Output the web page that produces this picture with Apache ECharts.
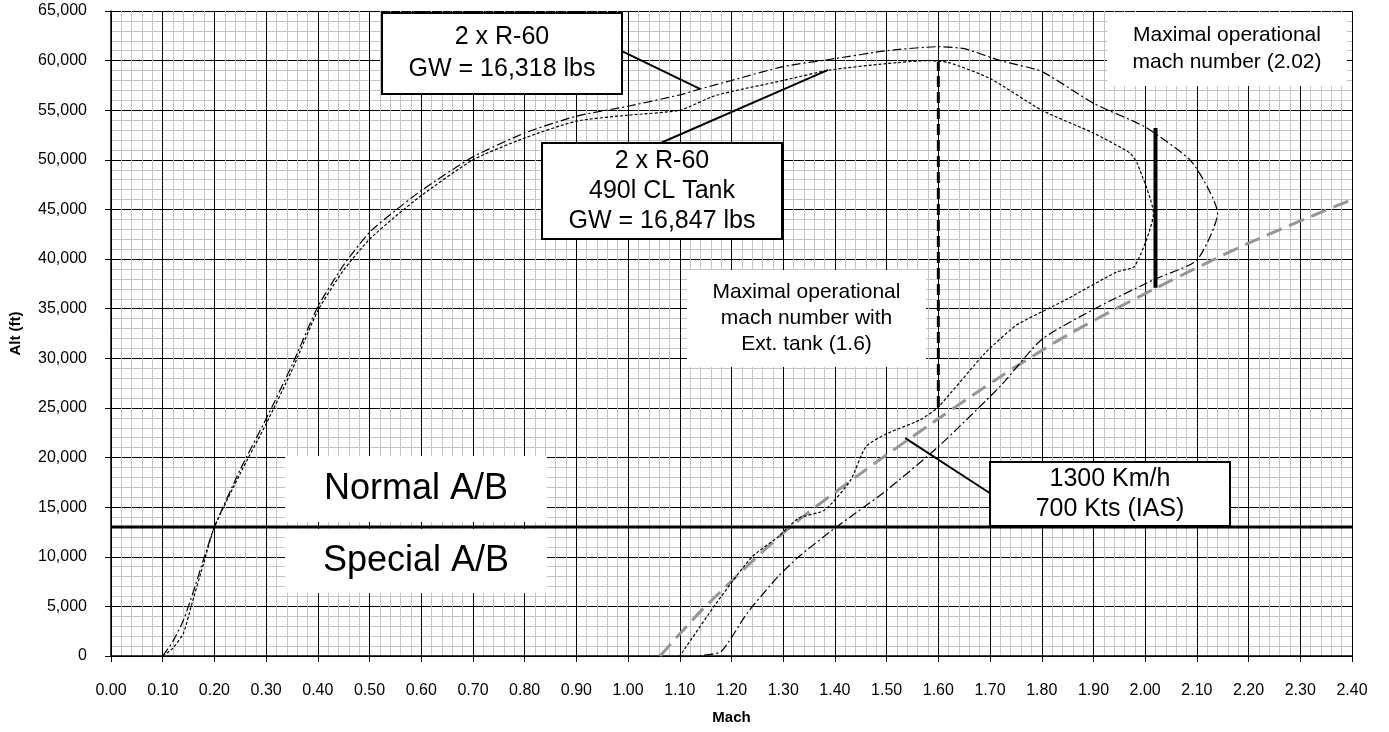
<!doctype html>
<html>
<head>
<meta charset="UTF-8">
<title>Mach / Alt envelope</title>
<script src="https://cdn.jsdelivr.net/npm/echarts@6.0.0/dist/echarts.min.js"></script>
<style>
  html, body { margin: 0; padding: 0; background: #fff; }
  #main { width: 1389px; height: 732px; }
</style>
</head>
<body>
<div id="main"></div>
<script type="text/javascript">
// envelope without tank (dash-dot), [mach, alt ft]
var cleanEnvelope = [
  [0.10, 0], [0.12, 1500], [0.14, 3600], [0.16, 6600], [0.18, 9900], [0.20, 13000],
  [0.25, 18800], [0.30, 23900], [0.35, 29300], [0.40, 35200], [0.45, 39400], [0.50, 42700],
  [0.55, 44900], [0.60, 46900], [0.70, 50300], [0.80, 52700], [0.90, 54400], [1.00, 55400],
  [1.10, 56550], [1.14, 57150], [1.20, 58000], [1.30, 59400], [1.40, 60200], [1.50, 61000],
  [1.60, 61400], [1.65, 61200], [1.72, 60000], [1.80, 58900], [1.90, 55700], [2.00, 53300],
  [2.09, 49800], [2.14, 44600], [2.10, 39900], [2.02, 38000], [1.91, 35200], [1.80, 31900],
  [1.72, 27200], [1.60, 21100], [1.50, 16700], [1.44, 14400], [1.40, 12900], [1.33, 10000],
  [1.29, 8000], [1.23, 4300], [1.18, 450], [1.14, 50]
];
// envelope with 490l CL tank (short dash)
var tankEnvelope = [
  [0.10, 0], [0.12, 800], [0.14, 2300], [0.155, 5000], [0.18, 9500], [0.20, 13000],
  [0.25, 18400], [0.30, 23400], [0.35, 28800], [0.40, 34800], [0.45, 38900], [0.50, 42000],
  [0.55, 44300], [0.60, 46400], [0.70, 50000], [0.80, 52200], [0.90, 53900], [1.00, 54500],
  [1.10, 55000], [1.17, 56500], [1.30, 58000], [1.39, 59050], [1.50, 59700], [1.58, 60000],
  [1.62, 59800], [1.70, 58200], [1.80, 55000], [1.90, 52700], [1.97, 50700], [1.985, 49600],
  [2.016, 44600], [1.98, 39300], [1.945, 38700], [1.85, 36000], [1.82, 35200], [1.75, 33300],
  [1.69, 30500], [1.60, 25100], [1.565, 23800], [1.50, 22400], [1.46, 21100], [1.43, 17700],
  [1.38, 14700], [1.33, 13900], [1.29, 12000], [1.24, 10000], [1.18, 6000], [1.10, 0]
];
// 1300 km/h / 700 kts IAS line
var iasLine = [
  [1.062, 0], [1.146, 4800], [1.307, 12700], [1.45, 18400], [1.597, 23800], [1.72, 28150],
  [1.855, 32500], [2.022, 37100], [2.20, 41600], [2.40, 46000]
];
var abLimit = [[0, 13000], [2.4, 13000]];
var tankMachLimit = [[1.6, 25100], [1.6, 59900]];
var maxMachLimit = [[2.02, 37100], [2.02, 53200]];
var pointerClean = [[0.990, 60900], [1.139, 57150]];
var pointerTank = [[1.065, 51750], [1.387, 59070]];
var pointerIas = [[1.536, 21950], [1.700, 16400]];

var xTicks = { min: 0, max: 2.4, step: 0.1 };
var yTicks = { min: 0, max: 65000, step: 5000 };

var FONT = '"Liberation Sans", Arial, sans-serif';

function lineSeries(data, style, z, smooth) {
  return {
    type: 'line', data: data, showSymbol: false, symbol: 'none', smooth: smooth || false,
    lineStyle: style, z: z || 3, silent: true
  };
}

// white annotation box, optionally with a black frame
function box(x, y, w, h, text, fontSize, lh, border) {
  return {
    type: 'group',
    children: [
      {
        type: 'rect', z: 2, shape: { x: x, y: y, width: w, height: h },
        style: { fill: '#fff', stroke: border ? '#000' : 'none', lineWidth: border ? 2 : 0 }
      },
      {
        type: 'text', z: 2,
        style: {
          text: text, x: x + w / 2, y: y + h / 2, align: 'center', verticalAlign: 'middle',
          font: fontSize + 'px ' + FONT, fill: '#000', lineHeight: lh
        }
      }
    ]
  };
}

var myChart = echarts.init(document.getElementById('main'));
var option = {
  animation: false,
  backgroundColor: '#fff',
  grid: { left: 111, right: 37, top: 11, bottom: 76, outerBoundsMode: 'none', containLabel: false },
  xAxis: {
    type: 'value', min: xTicks.min, max: xTicks.max, interval: xTicks.step,
    name: 'Mach', nameLocation: 'middle', nameGap: 54,
    nameTextStyle: { fontFamily: FONT, fontSize: 15, fontWeight: 'bold', color: '#000' },
    axisLine: { lineStyle: { color: '#000', width: 1.5 } },
    axisTick: { show: true, length: 6, lineStyle: { color: '#000' } },
    axisLabel: {
      fontFamily: FONT, fontSize: 16, color: '#000', margin: 27,
      formatter: function (v) { return v.toFixed(2); }
    },
    splitLine: { show: true, lineStyle: { color: '#000', width: 1 } },
    minorTick: { show: false, splitNumber: 5 },
    minorSplitLine: { show: true, lineStyle: { color: '#c4c4c4', width: 1 } }
  },
  yAxis: {
    type: 'value', min: yTicks.min, max: yTicks.max, interval: yTicks.step,
    name: 'Alt (ft)', nameLocation: 'middle', nameGap: 88, nameRotate: 90,
    nameTextStyle: { fontFamily: FONT, fontSize: 15, fontWeight: 'bold', color: '#000' },
    axisLine: { show: true, lineStyle: { color: '#000', width: 1.5 } },
    axisTick: { show: true, length: 6, lineStyle: { color: '#000' } },
    axisLabel: {
      fontFamily: FONT, fontSize: 16, color: '#000', margin: 24,
      formatter: function (v) { return v.toLocaleString('en-US'); }
    },
    splitLine: { show: true, lineStyle: { color: '#000', width: 1 } },
    minorTick: { show: false, splitNumber: 5 },
    minorSplitLine: { show: true, lineStyle: { color: '#c4c4c4', width: 1 } }
  },
  series: [
    lineSeries(iasLine, { color: '#969696', width: 3, type: [16, 8] }, 3, 0.3),
    lineSeries(cleanEnvelope, { color: '#000', width: 1.2, type: [9, 3, 2, 3] }, 4, 0.2),
    lineSeries(tankEnvelope, { color: '#000', width: 1.2, type: [3, 2] }, 4, 0.2),
    lineSeries(abLimit, { color: '#000', width: 3 }, 5),
    lineSeries(tankMachLimit, { color: '#000', width: 3, type: [11, 5] }, 5),
    lineSeries(maxMachLimit, { color: '#000', width: 4 }, 5),
    lineSeries(pointerClean, { color: '#000', width: 2 }, 5),
    lineSeries(pointerTank, { color: '#000', width: 2 }, 5),
    lineSeries(pointerIas, { color: '#000', width: 2 }, 5)
  ],
  graphic: [
    box(382, 13, 240, 81, '2 x R-60\nGW = 16,318 lbs', 25, 32, true),
    box(542, 143, 240, 96, '2 x R-60\n490l CL Tank\nGW = 16,847 lbs', 25, 30, true),
    box(990, 462, 240, 64, '1300 Km/h\n700 Kts (IAS)', 25, 30, true),
    box(1107, 12, 240, 74, 'Maximal operational\nmach number (2.02)', 21, 27, false),
    box(687, 270, 239, 97, 'Maximal operational\nmach number with\nExt. tank (1.6)', 21, 26, false),
    box(285, 456, 262, 66, 'Normal A/B', 36, 40, false),
    box(285, 529, 262, 64, 'Special A/B', 36, 40, false)
  ]
};
myChart.setOption(option);
</script>
</body>
</html>
